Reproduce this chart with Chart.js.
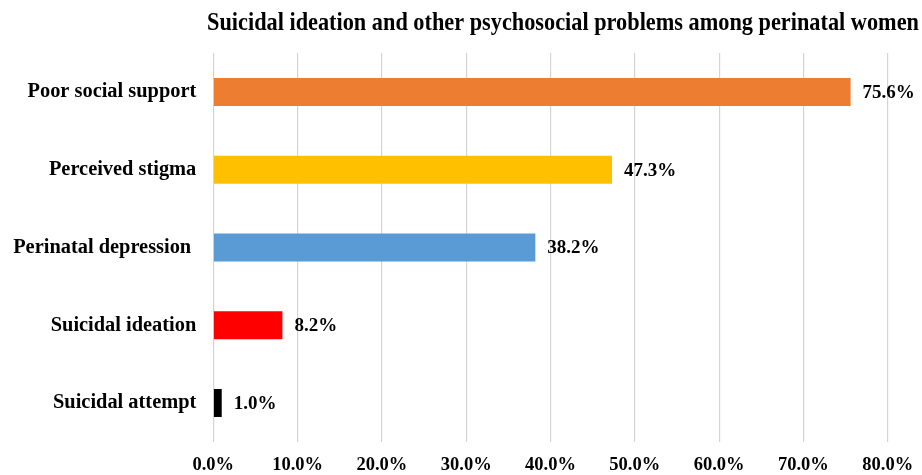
<!DOCTYPE html>
<html>
<head>
<meta charset="utf-8">
<script src="https://cdn.jsdelivr.net/npm/chart.js@4.4.1/dist/chart.umd.min.js"></script>
<style>
  html, body { margin: 0; padding: 0; background: #ffffff; }
  #wrap { width: 922px; height: 475px; position: relative; }
</style>
</head>
<body>
<div id="wrap"><canvas id="c"></canvas></div>
<script>
const chartTitle = 'Suicidal ideation and other psychosocial problems among perinatal women';
const categories = ['Poor social support', 'Perceived stigma', 'Perinatal depression ', 'Suicidal ideation', 'Suicidal attempt'];
const values = [75.6, 47.3, 38.2, 8.2, 1.0];
const valueLabels = ['75.6%', '47.3%', '38.2%', '8.2%', '1.0%'];
const barColors = ['#ED7D31', '#FFC000', '#5B9BD5', '#FF0000', '#000000'];
const xTickValues = [0, 10, 20, 30, 40, 50, 60, 70, 80];
const xTickLabels = ['0.0%', '10.0%', '20.0%', '30.0%', '40.0%', '50.0%', '60.0%', '70.0%', '80.0%'];

const FONT = "'Liberation Serif', 'Times New Roman', serif";

const titlePlugin = {
  id: 'customTitle',
  afterDraw(chart) {
    const ctx = chart.ctx;
    ctx.save();
    ctx.font = 'bold 22.3px ' + FONT;
    ctx.fillStyle = '#000000';
    ctx.textAlign = 'center';
    ctx.textBaseline = 'alphabetic';
    ctx.translate(563, 30);
    ctx.scale(1, 1.13);
    ctx.fillText(chartTitle, 0, 0);
    ctx.restore();
  }
};

const valueLabelPlugin = {
  id: 'valueLabels',
  afterDatasetsDraw(chart) {
    const ctx = chart.ctx;
    const meta = chart.getDatasetMeta(0);
    ctx.save();
    ctx.font = 'bold 19px ' + FONT;
    ctx.fillStyle = '#000000';
    ctx.textAlign = 'left';
    ctx.textBaseline = 'middle';
    meta.data.forEach((bar, i) => {
      ctx.fillText(valueLabels[i], bar.x + 12, bar.y + 1);
    });
    ctx.restore();
  }
};

new Chart(document.getElementById('c'), {
  type: 'bar',
  data: {
    labels: categories,
    datasets: [{
      data: values,
      backgroundColor: barColors,
      borderWidth: 0,
      categoryPercentage: 1.0,
      barPercentage: 0.36
    }]
  },
  options: {
    indexAxis: 'y',
    responsive: true,
    maintainAspectRatio: false,
    animation: false,
    layout: { padding: { left: 0, right: 34.3, top: 53, bottom: 0 } },
    plugins: {
      legend: { display: false },
      title: { display: false },
      tooltip: { enabled: false }
    },
    scales: {
      x: {
        type: 'linear',
        min: 0,
        max: 80,
        afterBuildTicks(scale) {
          scale.ticks = xTickValues.map(v => ({ value: v }));
        },
        afterFit(scale) {
          scale.height = 33;
          scale.paddingRight = 0;
          scale.paddingLeft = 0;
        },
        grid: { color: '#d4d4d4', lineWidth: 1.2, drawTicks: false },
        border: { display: false },
        ticks: {
          autoSkip: false,
          maxRotation: 0,
          padding: 12,
          color: '#000000',
          font: { family: FONT, size: 18.5, weight: 'bold' },
          callback: (v, i) => xTickLabels[i]
        }
      },
      y: {
        afterFit(scale) { scale.width = 213.3; },
        grid: { display: false, drawTicks: false },
        border: { display: false },
        ticks: {
          padding: 17,
          color: '#000000',
          font: { family: FONT, size: 20.4, weight: 'bold' }
        }
      }
    }
  },
  plugins: [titlePlugin, valueLabelPlugin]
});
</script>
</body>
</html>
